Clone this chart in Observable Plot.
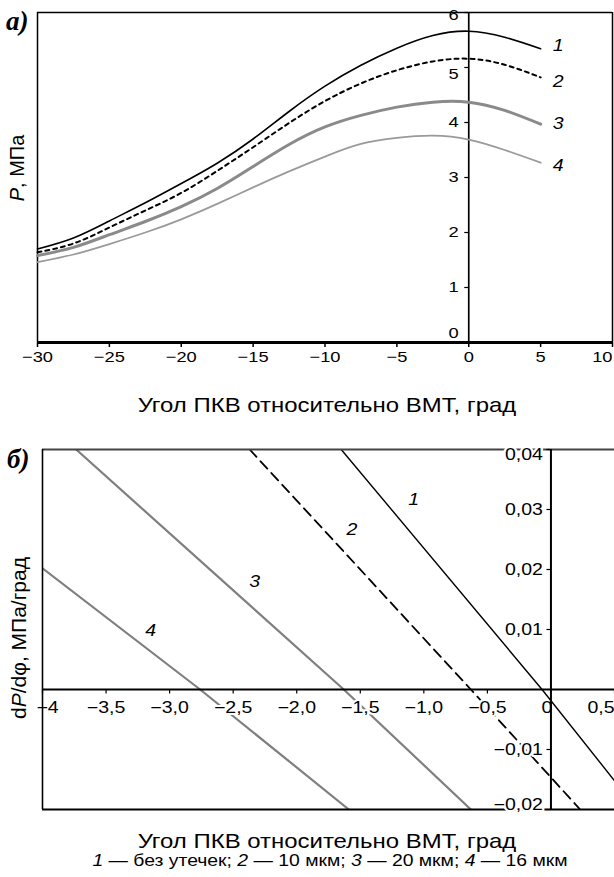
<!DOCTYPE html>
<html>
<head>
<meta charset="utf-8">
<script src="https://cdn.jsdelivr.net/npm/d3@7"></script>
<script src="https://cdn.jsdelivr.net/npm/@observablehq/plot@0.6"></script>
<style>
  html, body { margin: 0; padding: 0; background: #fff; }
  #wrap { position: relative; width: 614px; height: 877px; overflow: hidden; font-family: "Liberation Sans", Arial, sans-serif; color: #000; }
  #wrap svg { position: absolute; left: 0; }
  .panel { position: absolute; font-family: "Liberation Serif", "Times New Roman", serif; font-style: italic; font-weight: bold; font-size: 27px; line-height: 1; }
  .title { position: absolute; white-space: nowrap; transform: translate(-50%, -50%) scaleX(1.14); font-size: 21px; line-height: 1; }
  .caption { position: absolute; white-space: nowrap; transform: translate(-50%, -50%) scaleX(1.21); font-size: 16px; line-height: 1; }
  .ylab { position: absolute; white-space: nowrap; transform: translate(-50%, -50%) rotate(-90deg); font-size: 20px; line-height: 1; }
  .ylab.big { font-size: 21px; }
</style>
</head>
<body>
<div id="wrap"></div>
<script>
// ---------- Panel а: pressure P (МПа) vs crank angle ----------
const anglesA = [-30, -27.5, -25, -22.5, -20, -17.5, -15, -12.5, -10, -7.5, -5, -2.5, 0, 2.5, 5];
const pNoLeak = [1.70, 1.90, 2.21, 2.54, 2.89, 3.26, 3.70, 4.20, 4.66, 5.04, 5.35, 5.58, 5.66, 5.55, 5.34];
const p10um   = [1.64, 1.80, 2.09, 2.40, 2.72, 3.12, 3.55, 3.99, 4.39, 4.71, 4.95, 5.11, 5.16, 5.05, 4.82];
const p20um   = [1.58, 1.73, 1.96, 2.20, 2.47, 2.80, 3.20, 3.60, 3.92, 4.13, 4.28, 4.37, 4.37, 4.22, 3.97];
const p16um   = [1.46, 1.60, 1.79, 2.00, 2.24, 2.52, 2.82, 3.11, 3.38, 3.61, 3.72, 3.76, 3.69, 3.50, 3.27];
const seriesNames = ["1", "2", "3", "4"];
const xTicksA = [-30, -25, -20, -15, -10, -5, 0, 5, 10];
const xTickLabelsA = ["−30", "−25", "−20", "−15", "−10", "−5", "0", "5", "10"];
const yTicksA = [0, 1, 2, 3, 4, 5, 6];
const yTickLabelsA = ["0", "1", "2", "3", "4", "5", "6"];

// ---------- Panel б: dP/dφ (МПа/град) vs crank angle ----------
const angleB1 = [-1.65, -0.07, 0.5];
const derivB1 = [0.04, 0, -0.0152];
const angleB2 = [-2.37, -0.63, 0.23];
const derivB2 = [0.04, 0, -0.02];
const angleB3 = [-3.735, -1.63, -0.63];
const derivB3 = [0.04, 0, -0.02];
const angleB4 = [-4, -2.76, -1.59];
const derivB4 = [0.0202, 0, -0.02];
const labelAngleB = [-1.08, -1.565, -2.33, -3.15];
const labelDerivB = [0.0316, 0.0266, 0.0179, 0.0098];
const xTicksB = [-4, -3.5, -3, -2.5, -2, -1.5, -1, -0.5, 0, 0.5];
const xTickLabelsB = ["−4", "−3,5", "−3,0", "−2,5", "−2,0", "−1,5", "−1,0", "−0,5", "0", "0,5"];
const yTicksB = [0.04, 0.03, 0.02, 0.01, -0.01, -0.02];
const yTickLabelsB = ["0,04", "0,03", "0,02", "0,01", "−0,01", "−0,02"];

const FONT = "Liberation Sans, Arial, sans-serif";
const TICK_STRETCH = 1.22;

function stretchTexts(svg, s) {
  svg.querySelectorAll("text").forEach(t => {
    const tr = t.getAttribute("transform");
    if (tr) t.setAttribute("transform", tr + ` scale(${s},1)`);
  });
}

const wrap = document.getElementById("wrap");

// ---- Panel а ----
const seriesA = [pNoLeak, p10um, p20um, p16um].map((vals, k) => ({
  name: seriesNames[k],
  rows: anglesA.map((a, i) => ({angle: a, P: vals[i]}))
}));
const styleA = [
  {stroke: "#000", strokeWidth: 1.6},
  {stroke: "#000", strokeWidth: 2, strokeDasharray: "4,4"},
  {stroke: "#8a8a8a", strokeWidth: 3},
  {stroke: "#9a9a9a", strokeWidth: 1.8}
];
const endDyA = [-3, 4, 0, 3];
const xLabA = xTicksA.map((t, i) => ({v: t, s: xTickLabelsA[i]}));
const yLabA = yTicksA.map((t, i) => ({v: t, s: yTickLabelsA[i]}));
const pxPerDegA = (614 - 37 - 2) / 40;
const pxPerUnitA = 330 / 6;

const plotA = Plot.plot({
  width: 614, height: 372,
  marginTop: 12, marginBottom: 30, marginLeft: 37, marginRight: 2,
  x: {domain: [-30, 10], axis: null},
  y: {domain: [0, 6], axis: null},
  style: {fontFamily: FONT, fontSize: "15px", color: "#000", background: "transparent"},
  marks: [
    Plot.ruleX([-30, 10], {stroke: "#000", strokeWidth: 1.5}),
    Plot.ruleY([6], {stroke: "#000", strokeWidth: 1.5}),
    Plot.ruleX([0], {stroke: "#000", strokeWidth: 1.7}),
    Plot.ruleY(yTicksA, {x1: 0, x2: -4 / pxPerDegA, stroke: "#000", strokeWidth: 1.2}),
    Plot.ruleX(xTicksA, {y1: 0, y2: -5 / pxPerUnitA, stroke: "#000", strokeWidth: 1.5}),
    ...seriesA.map((s, k) => Plot.line(s.rows, {x: "angle", y: "P", curve: "natural", ...styleA[k]})),
    ...seriesA.map((s, k) => Plot.text([s.rows[s.rows.length - 1]], {
      x: "angle", y: "P", text: () => s.name, dx: 12, dy: endDyA[k],
      fontStyle: "italic", fontSize: 16, textAnchor: "start"
    })),
    Plot.text(yLabA.filter(d => d.v >= 1 && d.v <= 4), {x: 0, y: "v", text: "s", dx: -10, textAnchor: "end"}),
    Plot.text(yLabA.filter(d => d.v === 5), {x: 0, y: "v", text: "s", dx: -10, dy: 7, textAnchor: "end"}),
    Plot.text(yLabA.filter(d => d.v === 6), {x: 0, y: "v", text: "s", dx: -10, dy: 3, textAnchor: "end"}),
    Plot.text(yLabA.filter(d => d.v === 0), {x: 0, y: "v", text: "s", dx: -10, dy: -9, textAnchor: "end", stroke: "white", strokeWidth: 3, fill: "#000"}),
    Plot.ruleY([0], {stroke: "#000", strokeWidth: 3}),
    Plot.text(xLabA.filter(d => d.v < 10), {x: "v", y: 0, text: "s", dy: 15}),
    Plot.text(xLabA.filter(d => d.v === 10), {x: "v", y: 0, text: "s", dy: 15, textAnchor: "end"})
  ]
});
plotA.style.top = "0px";
stretchTexts(plotA, TICK_STRETCH);
wrap.appendChild(plotA);

// ---- Panel б ----
const linesB = [[angleB1, derivB1], [angleB2, derivB2], [angleB3, derivB3], [angleB4, derivB4]]
  .map(([xs, ys]) => xs.map((x, i) => ({angle: x, d: ys[i]})));
const styleB = [
  {stroke: "#000", strokeWidth: 1.4},
  {stroke: "#000", strokeWidth: 1.8, strokeDasharray: "10,6"},
  {stroke: "#7f7f7f", strokeWidth: 2.2},
  {stroke: "#7f7f7f", strokeWidth: 2.2}
];
const seriesLabelsB = seriesNames.map((n, k) => ({name: n, angle: labelAngleB[k], d: labelDerivB[k]}));
const xLabB = xTicksB.map((t, i) => ({v: t, s: xTickLabelsB[i]}));
const yLabB = yTicksB.map((t, i) => ({v: t, s: yTickLabelsB[i]}));
const pxPerDegB = 572 / 4.5;
const pxPerUnitB = 360 / 0.06;
const halo = {stroke: "white", strokeWidth: 4, fill: "#000"};

const plotB = Plot.plot({
  width: 614, height: 383,
  marginTop: 19, marginBottom: 4, marginLeft: 42, marginRight: 0,
  x: {domain: [-4, 0.5], axis: null},
  y: {domain: [-0.02, 0.04], axis: null},
  style: {fontFamily: FONT, fontSize: "16px", color: "#000", background: "transparent"},
  marks: [
    ...linesB.map((rows, k) => Plot.line(rows, {x: "angle", y: "d", clip: true, ...styleB[k]})),
    Plot.ruleY([0.04], {stroke: "#444", strokeWidth: 2}),
    Plot.ruleY([-0.02], {stroke: "#000", strokeWidth: 2}),
    Plot.ruleX([-4], {stroke: "#000", strokeWidth: 1.6}),
    Plot.ruleY([0], {stroke: "#000", strokeWidth: 2}),
    Plot.ruleX([0], {stroke: "#000", strokeWidth: 2}),
    Plot.ruleX(xTicksB, {y1: 0, y2: -4.5 / pxPerUnitB, stroke: "#000", strokeWidth: 1.2}),
    Plot.ruleY(yTicksB, {x1: 0, x2: -4 / pxPerDegB, stroke: "#000", strokeWidth: 1.2}),
    Plot.text(seriesLabelsB, {x: "angle", y: "d", text: "name", fontStyle: "italic", fontSize: 16}),
    Plot.text(xLabB.filter(d => d.v > -4 && d.v < 0), {x: "v", y: 0, text: "s", dy: 18, ...halo}),
    Plot.text(xLabB.filter(d => d.v === -4), {x: "v", y: 0, text: "s", dy: 18, dx: 5}),
    Plot.text(xLabB.filter(d => d.v === 0), {x: "v", y: 0, text: "s", dy: 18, dx: -4}),
    Plot.text(xLabB.filter(d => d.v === 0.5), {x: "v", y: 0, text: "s", dy: 18, textAnchor: "end"}),
    Plot.text(yLabB.filter(d => d.v > -0.02 && d.v < 0.04), {x: 0, y: "v", text: "s", dx: -8, textAnchor: "end", ...halo}),
    Plot.text(yLabB.filter(d => d.v === 0.04), {x: 0, y: "v", text: "s", dx: -8, dy: 5, textAnchor: "end", ...halo}),
    Plot.text(yLabB.filter(d => d.v === -0.02), {x: 0, y: "v", text: "s", dx: -8, dy: -5, textAnchor: "end", ...halo})
  ]
});
plotB.style.top = "430px";
stretchTexts(plotB, TICK_STRETCH);
wrap.appendChild(plotB);

// ---- HTML text: panel letters, axis titles, caption ----
function addDiv(cls, html, left, top) {
  const d = document.createElement("div");
  d.className = cls;
  d.innerHTML = html;
  d.style.left = left + "px";
  d.style.top = top + "px";
  wrap.appendChild(d);
  return d;
}
addDiv("panel", "а)", 6, 8);
addDiv("panel", "б)", 7, 446);
addDiv("ylab", "<i>P</i>, МПа", 17, 168);
addDiv("ylab big", "d<i>P</i>/dφ, МПа/град", 18, 638);
addDiv("title", "Угол ПКВ относительно ВМТ, град", 327, 404);
addDiv("title", "Угол ПКВ относительно ВМТ, град", 327, 840);
addDiv("caption", "<i>1</i> — без утечек; <i>2</i> — 10 мкм; <i>3</i> — 20 мкм; <i>4</i> — 16 мкм", 330, 861);
</script>
</body>
</html>
